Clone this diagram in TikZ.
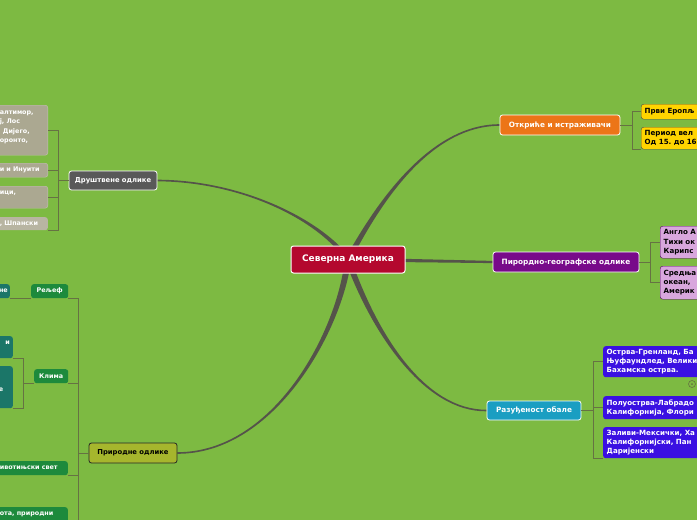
\documentclass[tikz,border=0pt]{standalone}
\usepackage{fontspec}
\setmainfont{DejaVu Sans}
\usepackage{tikz}
\usetikzlibrary{positioning, calc, backgrounds}
\frenchspacing
\definecolor{mapbg}{HTML}{7DBA42}
\definecolor{branchcol}{HTML}{55534A}
\definecolor{twigcol}{HTML}{667243}
\definecolor{rootred}{HTML}{B4082E}
\definecolor{socgray}{HTML}{595959}
\definecolor{socleaf}{HTML}{ABA891}
\definecolor{discorange}{HTML}{EC7518}
\definecolor{discyellow}{HTML}{FFD400}
\definecolor{geopurple}{HTML}{780A8A}
\definecolor{geolilac}{HTML}{D8A7DD}
\definecolor{coastteal}{HTML}{1A9EC2}
\definecolor{coastblue}{HTML}{3A10E2}
\definecolor{natolive}{HTML}{A6B62D}
\definecolor{natgreen}{HTML}{1D8A3C}
\definecolor{natteal}{HTML}{1B7668}
\newcommand{\rootfont}{\fontsize{9}{11}\selectfont\bfseries}
\newcommand{\mainfont}{\fontsize{6.8}{9}\selectfont\bfseries}
\newcommand{\mainfontR}{\fontsize{7.3}{9}\selectfont\bfseries}
\newcommand{\leaffont}{\fontsize{6.4}{9.5}\selectfont\bfseries}
\newcommand{\leaffontR}{\fontsize{7.1}{9.3}\selectfont\bfseries}
% tapered branch from the root: end, control 1, control 2, side x, side y
\newcommand{\mmbranch}[5]{%
  \fill[branchcol] ($(root.center)+({(#4)*3.2},0)$) .. controls ($#2+({(#4)*2.6},0)$) and ($#3+(0,{(#5)*1})$) .. ($#1+(0,{(#5)*0.8})$)
    -- ($#1+(0,{-(#5)*0.8})$) .. controls ($#3+(0,{-(#5)*1})$) and ($#2+({-(#4)*2.6},0)$) .. ($(root.center)+({-(#4)*3.2},0)$) -- cycle;}

\begin{document}
\begin{tikzpicture}[x=1pt, y=-1pt,
  topic/.style={rectangle, draw=white, line width=0.8pt, rounded corners=2.5pt, text=white, font=\mainfont, minimum height=19pt, inner sep=2pt},
  leaf/.style={rectangle, rounded corners=2.5pt, text=white, font=\leaffont, inner xsep=4pt, inner ysep=2pt},
  leafR/.style={leaf, font=\leaffontR, anchor=north west, text width=110pt, align=left, inner xsep=3.5pt},
  twig/.style={draw=twigcol, line width=0.8pt}]

\useasboundingbox (0,0) rectangle (697,520);
\begin{scope}[on background layer]
\fill[mapbg] (0,0) rectangle (697,520);
\end{scope}
\clip (0,0) rectangle (697,520);

% centre and main topics
\node[topic, fill=rootred, font=\rootfont, line width=1pt, minimum width=114pt, minimum height=27pt] (root) at (348,259.5) {Северна Америка};
\node[topic, fill=socgray, minimum width=88pt] (drus) at (113,180.5) {Друштвене одлике};
\node[topic, fill=discorange, font=\mainfontR, minimum width=120pt, minimum height=20pt] (otkr) at (560,125) {Откриће и истраживачи};
\node[topic, fill=geopurple, font=\mainfontR, minimum width=146pt, minimum height=20pt] (pirod) at (566,262) {Пирордно-географске одлике};
\node[topic, fill=coastteal, font=\mainfontR, minimum width=94pt] (razu) at (534,410.5) {Разуђеност обале};
\node[topic, fill=natolive, draw=black!85, text=black, minimum width=88pt, minimum height=20pt] (prir) at (133,453) {Природне одлике};

% social leaves
\node[leaf, fill=socleaf, draw=socleaf!70!white, anchor=north east, text width=44pt, align=left, minimum height=50pt] (d1) at (48,105) {алтимор,\\ј, Лос\\\hspace{3pt}Дијего,\\оронто,\\[-3pt]~};
\node[leaf, fill=socleaf, draw=socleaf!70!white, anchor=north east, text width=44pt, align=left, minimum height=14pt] (d2) at (48,163) {и и Инуити};
\node[leaf, fill=socleaf, draw=socleaf!70!white, anchor=north east, text width=44pt, align=left, minimum height=22pt] (d3) at (48,186) {ици,\\~};
\node[leaf, fill=socleaf!85!white, anchor=north east, text width=44pt, align=left, minimum height=13pt] (d4) at (48,217) {, Шпански};

% discovery leaves
\node[leafR, fill=discyellow, draw=black!70, text=black, minimum height=15pt] (o1) at (641,104) {Први Еропљ};
\node[leafR, fill=discyellow, draw=black!70, text=black, minimum height=22pt] (o2) at (641,127) {Период вел\\Од 15. до 16};

% geography leaves
\node[leafR, fill=geolilac, draw=geopurple!70!black, text=black, minimum height=32pt] (p1) at (660,226) {Англо А\\Тихи ок\\Карипс};
\node[leafR, fill=geolilac, draw=geopurple!70!black, text=black, minimum height=33pt] (p2) at (660,266) {Средња\\океан,\\Америк};

% coast leaves
\node[leafR, fill=coastblue, minimum height=31pt] (r1) at (603,346) {Острва-Гренланд, Ба\\Њуфаундлед, Велики\\Бахамска острва.};
\node[leafR, fill=coastblue, minimum height=23pt] (r2) at (603,396) {Полуострва-Лабрадо\\Калифорнија, Флори};
\node[leafR, fill=coastblue, minimum height=31pt] (r3) at (603,427) {Заливи-Мексички, Ха\\Калифорнијски, Пан\\Даријенски};
\node[circle, draw=twigcol, line width=0.6pt, inner sep=0pt, minimum size=7pt] (fold) at (692,384) {};
\fill[twigcol] (fold.center) circle (1pt);

% nature leaves
\node[leaf, fill=natgreen, anchor=north west, minimum width=37pt, minimum height=14pt, inner xsep=2pt] (g1) at (31,284) {Рељеф};
\node[leaf, fill=natteal, anchor=north east, text width=10pt, align=right, minimum height=14pt, inner xsep=2pt] (gt) at (10,284) {не};
\node[leaf, fill=natgreen, anchor=north west, minimum width=34pt, minimum height=14pt, inner xsep=2pt] (g2) at (34,369) {Клима};
\node[leaf, fill=natteal, anchor=north east, text width=11pt, align=right, minimum height=22pt, inner xsep=3pt] (k1) at (13,336) {и\\~};
\node[leaf, fill=natteal, anchor=north east, text width=11pt, align=left, minimum height=42pt, inner xsep=3pt] (k2) at (13,366) {~\\~\\е\\~};
\node[leaf, fill=natgreen, anchor=north east, text width=64pt, align=left, minimum height=14pt] (g3) at (68,461) {ивотињски свет};
\node[leaf, fill=natgreen, anchor=north east, text width=64pt, align=left, minimum height=23pt] (g4) at (68,507) {ота, природни\\~};

% branches
\begin{scope}[on background layer]
\mmbranch{(drus.east)}{(322,222)}{(245,181)}{1}{-1}
\mmbranch{(otkr.west)}{(372,215)}{(425,125)}{-1}{-1}
\mmbranch{(prir.east)}{(340,330)}{(275,453)}{1}{1}
\mmbranch{(razu.west)}{(375,335)}{(425,411)}{-1}{1}
\fill[branchcol] ($(root.center)+(0,-2)$) -- ($(pirod.west)+(0,-1.1)$) -- ($(pirod.west)+(0,1.1)$) -- ($(root.center)+(0,2)$) -- cycle;
\end{scope}

% brackets
\draw[twig] (drus.west) -- ++(-10,0) coordinate (dj);
\draw[twig] (d1.east) -| (dj);
\draw[twig] (d2.east) -| (dj);
\draw[twig] (d3.east) -| (dj);
\draw[twig] (d4.south east) -| (dj);

\draw[twig] (otkr.east) -- ++(12,0) coordinate (oj);
\draw[twig] (o1.west) -| (oj);
\draw[twig] (o2.south west) -| (oj);

\draw[twig] (pirod.east) -- ++(11,0) coordinate (pj);
\draw[twig] (p1.west) -| (pj);
\draw[twig] (p2.west) -| (pj);

\draw[twig] (razu.east) -- ++(12,0) coordinate (rj);
\draw[twig] (r1.west) -| (rj);
\draw[twig] (r2.west) -| (rj);
\draw[twig] (r3.south west) -| (rj);

\draw[twig] (prir.west) -- ++(-10,0) coordinate (nj);
\draw[twig] (g1.south east) -| (nj);
\draw[twig] (g2.south east) -| (nj);
\draw[twig] (g3.south east) -| (nj);
\draw[twig] (g4.south east) -| (nj);
\draw[twig] (gt.south east) -- (g1.south west);

\draw[twig] (g2.south west) -- ++(-11,0) coordinate (kj);
\draw[twig] (k1.south east) -| (kj);
\draw[twig] (k2.south east) -| (kj);
\end{tikzpicture}
\end{document}
